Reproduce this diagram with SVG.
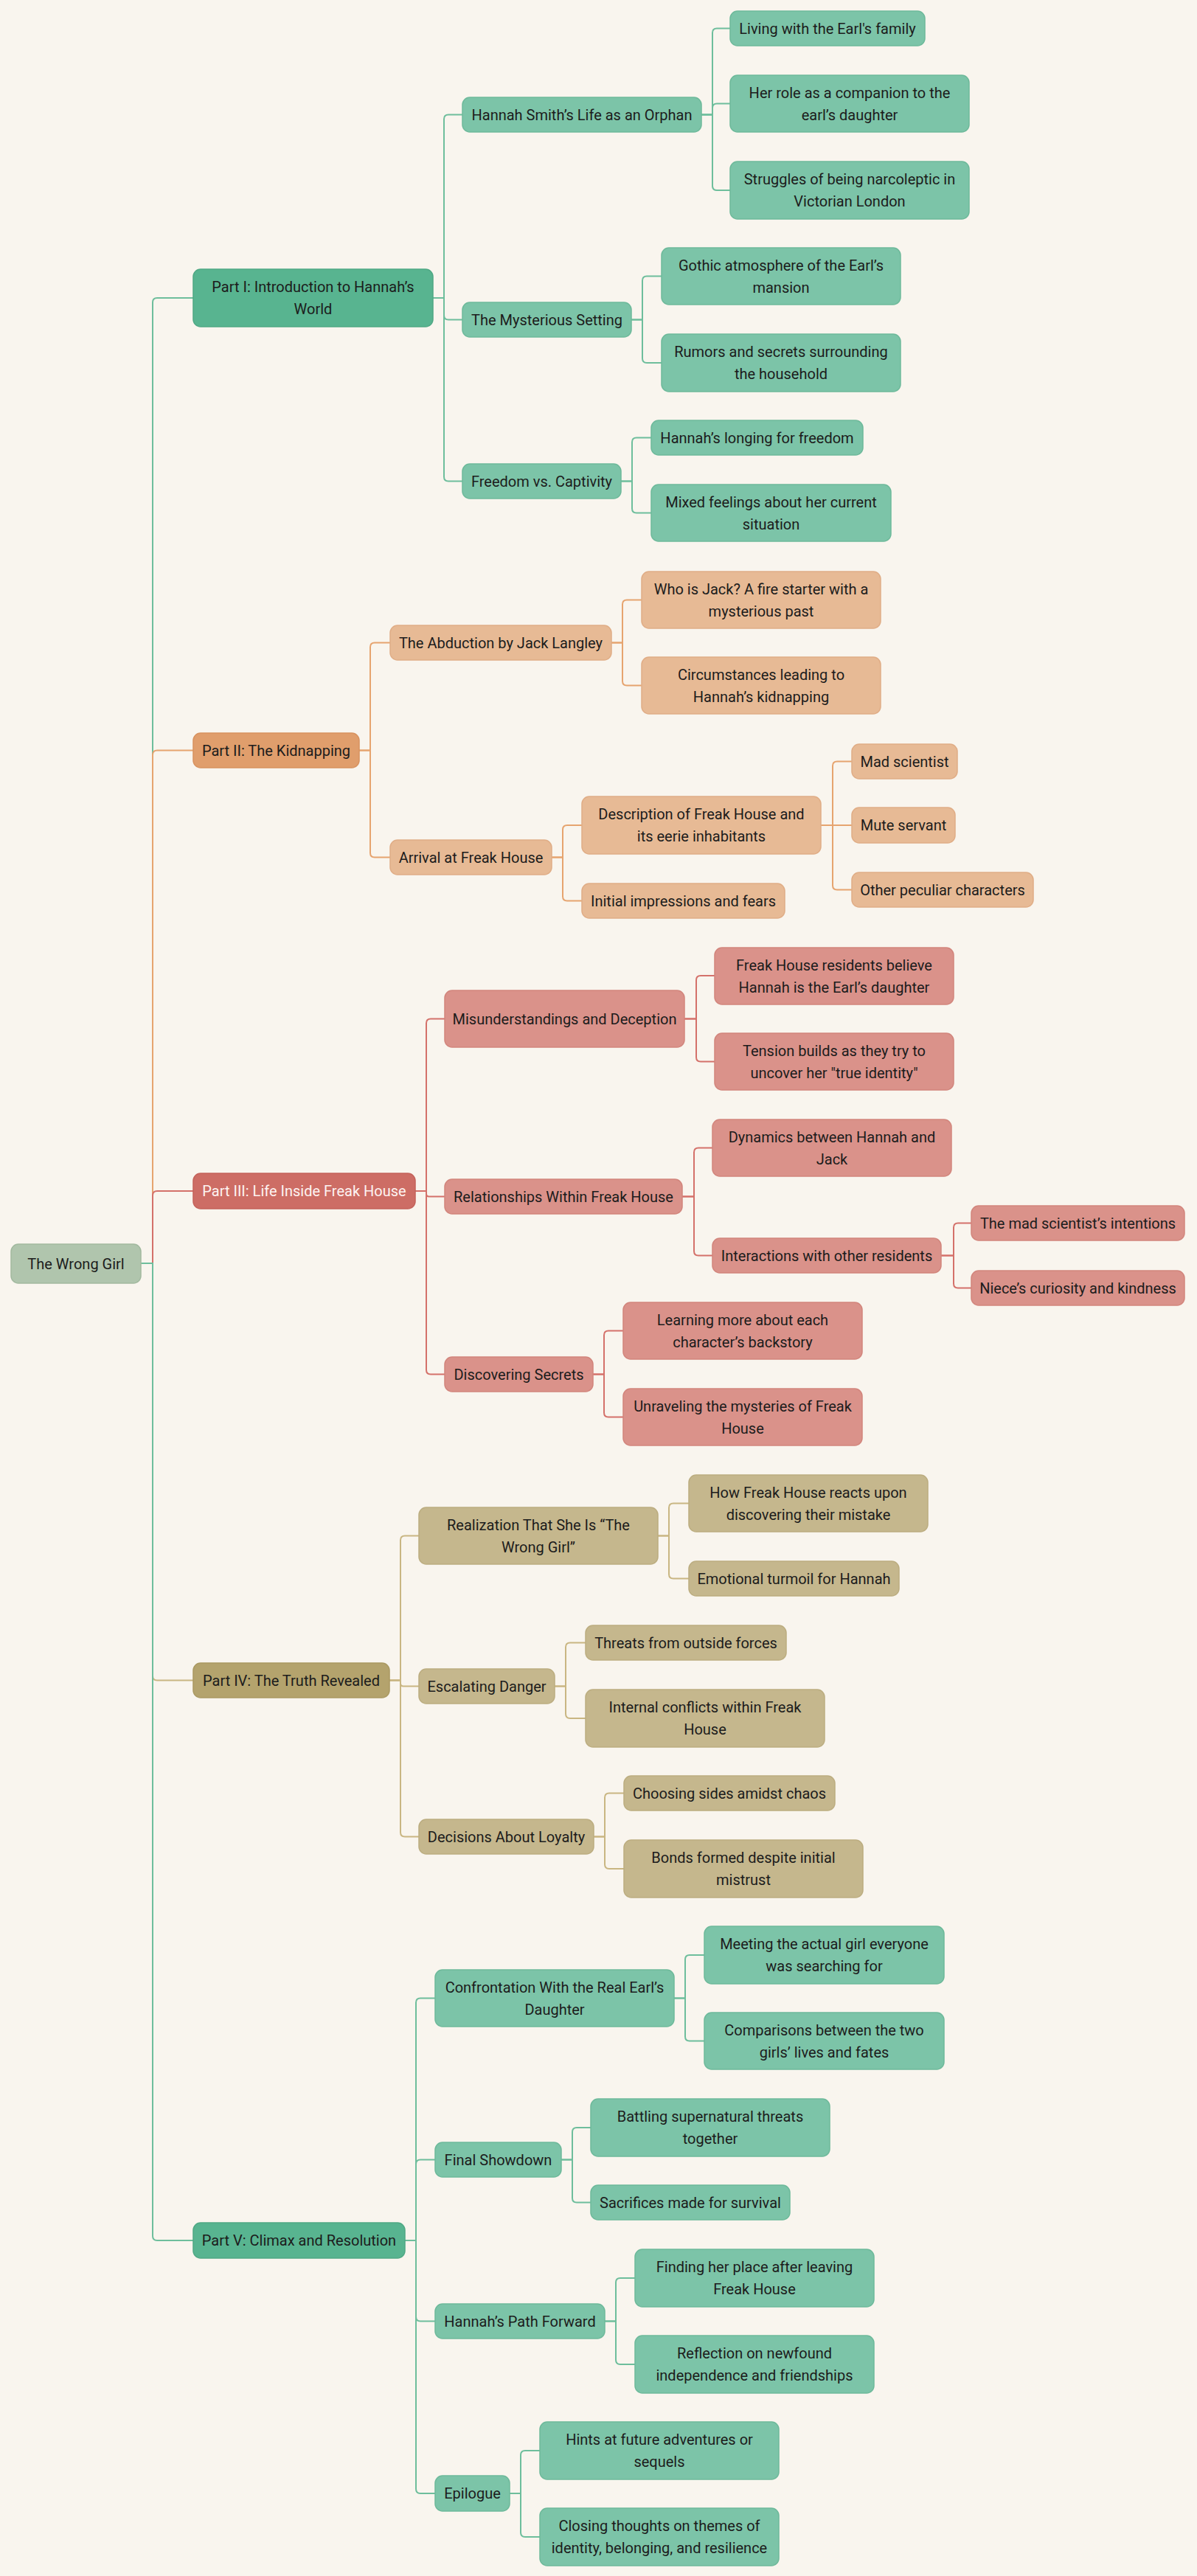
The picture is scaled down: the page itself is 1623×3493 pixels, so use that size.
<svg xmlns="http://www.w3.org/2000/svg" width="1623" height="3493" viewBox="0 0 1623 3493">
<style>
.bg{fill:#f9f5ee}
text{font-family:Roboto,"Liberation Sans",Arial,sans-serif;font-size:20px;fill:#1c1c1c;text-anchor:middle;dominant-baseline:central}
.root rect{fill:#b0c5ad;stroke:#a2b99f;stroke-width:1.5}
.g1 rect{fill:#58b490;stroke:#4fa884;stroke-width:1.5}
.g2 rect{fill:#7cc4a8;stroke:#6db99a;stroke-width:1.5}
.o1 rect{fill:#e09e6c;stroke:#d8925f;stroke-width:1.5}
.o2 rect{fill:#e7ba95;stroke:#e0ad86;stroke-width:1.5}
.r1 rect{fill:#cd6d65;stroke:#c4625a;stroke-width:1.5}
.r1 text{fill:#fdf3f1}
.r2 rect{fill:#da928a;stroke:#d2857c;stroke-width:1.5}
.y1 rect{fill:#b4a36d;stroke:#aa9962;stroke-width:1.5}
.y2 rect{fill:#c5b78d;stroke:#bcad80;stroke-width:1.5}
#connectors path{fill:none;stroke-width:2}
.cg{stroke:#6ebe9c}
.co{stroke:#e6a46f}
.cr{stroke:#d4716a}
.cy{stroke:#c9b682}
</style>
<rect class="bg" x="0" y="0" width="1623" height="3493"/>
<g id="connectors">
<path class="cg" d="M191 1713 H207 V410 Q207 404 213 404 H262"/>
<path class="co" d="M191 1713 H207 V1023.5 Q207 1017.5 213 1017.5 H262"/>
<path class="cr" d="M191 1713 H207 V1621 Q207 1615 213 1615 H262"/>
<path class="cy" d="M191 1713 H207 V2272.5 Q207 2278.5 213 2278.5 H262"/>
<path class="cg" d="M191 1713 H207 V3032 Q207 3038 213 3038 H262"/>

<path class="cg" d="M587 404 H602 V161.5 Q602 155.5 608 155.5 H627"/>
<path class="cg" d="M587 404 H602 V427.5 Q602 433.5 608 433.5 H627"/>
<path class="cg" d="M587 404 H602 V646.5 Q602 652.5 608 652.5 H627"/>
<path class="cg" d="M951 155.5 H966 V44.5 Q966 38.5 972 38.5 H990"/>
<path class="cg" d="M951 155.5 H966 V146.5 Q966 140.5 972 140.5 H990"/>
<path class="cg" d="M951 155.5 H966 V252 Q966 258 972 258 H990"/>
<path class="cg" d="M856 433.5 H871 V380.5 Q871 374.5 877 374.5 H897"/>
<path class="cg" d="M856 433.5 H871 V486 Q871 492 877 492 H897"/>
<path class="cg" d="M842 652.5 H857 V599.5 Q857 593.5 863 593.5 H883"/>
<path class="cg" d="M842 652.5 H857 V689.5 Q857 695.5 863 695.5 H883"/>

<path class="co" d="M487 1017.5 H502 V877.5 Q502 871.5 508 871.5 H529"/>
<path class="co" d="M487 1017.5 H502 V1156.5 Q502 1162.5 508 1162.5 H529"/>
<path class="co" d="M829 871.5 H844 V819.5 Q844 813.5 850 813.5 H870"/>
<path class="co" d="M829 871.5 H844 V923.5 Q844 929.5 850 929.5 H870"/>
<path class="co" d="M748 1162.5 H763 V1125 Q763 1119 769 1119 H789"/>
<path class="co" d="M748 1162.5 H763 V1215.5 Q763 1221.5 769 1221.5 H789"/>
<path class="co" d="M1113 1119 H1129 V1038.5 Q1129 1032.5 1135 1032.5 H1155"/>
<path class="co" d="M1113 1119 H1155"/>
<path class="co" d="M1113 1119 H1129 V1200.5 Q1129 1206.5 1135 1206.5 H1155"/>

<path class="cr" d="M563 1615 H578 V1387.5 Q578 1381.5 584 1381.5 H603"/>
<path class="cr" d="M563 1615 H578 V1618.75 Q578 1622.5 581.75 1622.5 H603"/>
<path class="cr" d="M563 1615 H578 V1857.5 Q578 1863.5 584 1863.5 H603"/>
<path class="cr" d="M928 1381.5 H944 V1329 Q944 1323 950 1323 H969"/>
<path class="cr" d="M928 1381.5 H944 V1433.5 Q944 1439.5 950 1439.5 H969"/>
<path class="cr" d="M925 1622.5 H941 V1562.5 Q941 1556.5 947 1556.5 H966"/>
<path class="cr" d="M925 1622.5 H941 V1696.5 Q941 1702.5 947 1702.5 H966"/>
<path class="cr" d="M1276 1702.5 H1293 V1664.5 Q1293 1658.5 1299 1658.5 H1317"/>
<path class="cr" d="M1276 1702.5 H1293 V1740.5 Q1293 1746.5 1299 1746.5 H1317"/>
<path class="cr" d="M804 1863.5 H819 V1810.5 Q819 1804.5 825 1804.5 H845"/>
<path class="cr" d="M804 1863.5 H819 V1915.5 Q819 1921.5 825 1921.5 H845"/>

<path class="cy" d="M528 2278.5 H543 V2088.5 Q543 2082.5 549 2082.5 H568"/>
<path class="cy" d="M528 2278.5 H543 V2282.5 Q543 2286.5 547 2286.5 H568"/>
<path class="cy" d="M528 2278.5 H543 V2484.5 Q543 2490.5 549 2490.5 H568"/>
<path class="cy" d="M892 2082.5 H907 V2044.5 Q907 2038.5 913 2038.5 H934"/>
<path class="cy" d="M892 2082.5 H907 V2134.5 Q907 2140.5 913 2140.5 H934"/>
<path class="cy" d="M752 2286.5 H767 V2233.5 Q767 2227.5 773 2227.5 H794"/>
<path class="cy" d="M752 2286.5 H767 V2324 Q767 2330 773 2330 H794"/>
<path class="cy" d="M805 2490.5 H820 V2437.5 Q820 2431.5 826 2431.5 H846"/>
<path class="cy" d="M805 2490.5 H820 V2528 Q820 2534 826 2534 H846"/>

<path class="cg" d="M549 3038 H564 V2715.5 Q564 2709.5 570 2709.5 H590"/>
<path class="cg" d="M549 3038 H564 V2934.5 Q564 2928.5 570 2928.5 H590"/>
<path class="cg" d="M549 3038 H564 V3141.5 Q564 3147.5 570 3147.5 H590"/>
<path class="cg" d="M549 3038 H564 V3375 Q564 3381 570 3381 H590"/>
<path class="cg" d="M914 2709.5 H929 V2657 Q929 2651 935 2651 H955"/>
<path class="cg" d="M914 2709.5 H929 V2761.5 Q929 2767.5 935 2767.5 H955"/>
<path class="cg" d="M761 2928.5 H776 V2891 Q776 2885 782 2885 H801"/>
<path class="cg" d="M761 2928.5 H776 V2980.5 Q776 2986.5 782 2986.5 H801"/>
<path class="cg" d="M820 3147.5 H835 V3095 Q835 3089 841 3089 H861"/>
<path class="cg" d="M820 3147.5 H835 V3200 Q835 3206 841 3206 H861"/>
<path class="cg" d="M691 3381 H706 V3329 Q706 3323 712 3323 H732"/>
<path class="cg" d="M691 3381 H706 V3434 Q706 3440 712 3440 H732"/>
</g>

<g id="n-root" class="root"><rect x="15" y="1687" width="176" height="53" rx="10"/><text x="103" y="1713.5">The Wrong Girl</text></g>

<g id="n-p1" class="g1"><rect x="262" y="365" width="325" height="78" rx="10"/><text x="424.5" y="389">Part I: Introduction to Hannah’s</text><text x="424.5" y="419">World</text></g>
<g id="n-p1a" class="g2"><rect x="627" y="132" width="324" height="47" rx="10"/><text x="789" y="155.5">Hannah Smith’s Life as an Orphan</text></g>
<g id="n-p1a1" class="g2"><rect x="990" y="15" width="264" height="47" rx="10"/><text x="1122" y="38.5">Living with the Earl's family</text></g>
<g id="n-p1a2" class="g2"><rect x="990" y="102" width="324" height="77" rx="10"/><text x="1152" y="125.5">Her role as a companion to the</text><text x="1152" y="155.5">earl’s daughter</text></g>
<g id="n-p1a3" class="g2"><rect x="990" y="219" width="324" height="78" rx="10"/><text x="1152" y="243">Struggles of being narcoleptic in</text><text x="1152" y="273">Victorian London</text></g>
<g id="n-p1b" class="g2"><rect x="627" y="410" width="229" height="47" rx="10"/><text x="741.5" y="433.5">The Mysterious Setting</text></g>
<g id="n-p1b1" class="g2"><rect x="897" y="336" width="324" height="77" rx="10"/><text x="1059" y="359.5">Gothic atmosphere of the Earl’s</text><text x="1059" y="389.5">mansion</text></g>
<g id="n-p1b2" class="g2"><rect x="897" y="453" width="324" height="78" rx="10"/><text x="1059" y="477">Rumors and secrets surrounding</text><text x="1059" y="507">the household</text></g>
<g id="n-p1c" class="g2"><rect x="627" y="629" width="215" height="47" rx="10"/><text x="734.5" y="652.5">Freedom vs. Captivity</text></g>
<g id="n-p1c1" class="g2"><rect x="883" y="570" width="287" height="47" rx="10"/><text x="1026.5" y="593.5">Hannah’s longing for freedom</text></g>
<g id="n-p1c2" class="g2"><rect x="883" y="657" width="325" height="77" rx="10"/><text x="1045.5" y="680.5">Mixed feelings about her current</text><text x="1045.5" y="710.5">situation</text></g>

<g id="n-p2" class="o1"><rect x="262" y="994" width="225" height="47" rx="10"/><text x="374.5" y="1017.5">Part II: The Kidnapping</text></g>
<g id="n-p2a" class="o2"><rect x="529" y="848" width="300" height="47" rx="10"/><text x="679" y="871.5">The Abduction by Jack Langley</text></g>
<g id="n-p2a1" class="o2"><rect x="870" y="775" width="324" height="77" rx="10"/><text x="1032" y="798.5">Who is Jack? A fire starter with a</text><text x="1032" y="828.5">mysterious past</text></g>
<g id="n-p2a2" class="o2"><rect x="870" y="891" width="324" height="77" rx="10"/><text x="1032" y="914.5">Circumstances leading to</text><text x="1032" y="944.5">Hannah’s kidnapping</text></g>
<g id="n-p2b" class="o2"><rect x="529" y="1139" width="219" height="47" rx="10"/><text x="638.5" y="1162.5">Arrival at Freak House</text></g>
<g id="n-p2b1" class="o2"><rect x="789" y="1080" width="324" height="78" rx="10"/><text x="951" y="1104">Description of Freak House and</text><text x="951" y="1134">its eerie inhabitants</text></g>
<g id="n-p2b1a" class="o2"><rect x="1155" y="1009" width="143" height="47" rx="10"/><text x="1226.5" y="1032.5">Mad scientist</text></g>
<g id="n-p2b1b" class="o2"><rect x="1155" y="1095" width="140" height="48" rx="10"/><text x="1225" y="1119">Mute servant</text></g>
<g id="n-p2b1c" class="o2"><rect x="1155" y="1183" width="246" height="47" rx="10"/><text x="1278" y="1206.5">Other peculiar characters</text></g>
<g id="n-p2b2" class="o2"><rect x="789" y="1198" width="275" height="47" rx="10"/><text x="926.5" y="1221.5">Initial impressions and fears</text></g>

<g id="n-p3" class="r1"><rect x="262" y="1591" width="301" height="48" rx="10"/><text x="412.5" y="1615">Part III: Life Inside Freak House</text></g>
<g id="n-p3a" class="r2"><rect x="603" y="1343" width="325" height="77" rx="10"/><text x="765.5" y="1381.5">Misunderstandings and Deception</text></g>
<g id="n-p3a1" class="r2"><rect x="969" y="1285" width="324" height="77" rx="10"/><text x="1131" y="1308.5">Freak House residents believe</text><text x="1131" y="1338.5">Hannah is the Earl’s daughter</text></g>
<g id="n-p3a2" class="r2"><rect x="969" y="1401" width="324" height="77" rx="10"/><text x="1131" y="1424.5">Tension builds as they try to</text><text x="1131" y="1454.5">uncover her "true identity"</text></g>
<g id="n-p3b" class="r2"><rect x="603" y="1599" width="322" height="47" rx="10"/><text x="764" y="1622.5">Relationships Within Freak House</text></g>
<g id="n-p3b1" class="r2"><rect x="966" y="1518" width="324" height="77" rx="10"/><text x="1128" y="1541.5">Dynamics between Hannah and</text><text x="1128" y="1571.5">Jack</text></g>
<g id="n-p3b2" class="r2"><rect x="966" y="1679" width="310" height="47" rx="10"/><text x="1121" y="1702.5">Interactions with other residents</text></g>
<g id="n-p3b2a" class="r2"><rect x="1317" y="1635" width="289" height="47" rx="10"/><text x="1461.5" y="1658.5">The mad scientist’s intentions</text></g>
<g id="n-p3b2b" class="r2"><rect x="1317" y="1723" width="289" height="47" rx="10"/><text x="1461.5" y="1746.5">Niece’s curiosity and kindness</text></g>
<g id="n-p3c" class="r2"><rect x="603" y="1840" width="201" height="47" rx="10"/><text x="703.5" y="1863.5">Discovering Secrets</text></g>
<g id="n-p3c1" class="r2"><rect x="845" y="1766" width="324" height="77" rx="10"/><text x="1007" y="1789.5">Learning more about each</text><text x="1007" y="1819.5">character’s backstory</text></g>
<g id="n-p3c2" class="r2"><rect x="845" y="1883" width="324" height="77" rx="10"/><text x="1007" y="1906.5">Unraveling the mysteries of Freak</text><text x="1007" y="1936.5">House</text></g>

<g id="n-p4" class="y1"><rect x="262" y="2255" width="266" height="47" rx="10"/><text x="395" y="2278.5">Part IV: The Truth Revealed</text></g>
<g id="n-p4a" class="y2"><rect x="568" y="2044" width="324" height="77" rx="10"/><text x="730" y="2067.5">Realization That She Is “The</text><text x="730" y="2097.5">Wrong Girl”</text></g>
<g id="n-p4a1" class="y2"><rect x="934" y="2000" width="324" height="77" rx="10"/><text x="1096" y="2023.5">How Freak House reacts upon</text><text x="1096" y="2053.5">discovering their mistake</text></g>
<g id="n-p4a2" class="y2"><rect x="934" y="2117" width="285" height="47" rx="10"/><text x="1076.5" y="2140.5">Emotional turmoil for Hannah</text></g>
<g id="n-p4b" class="y2"><rect x="568" y="2263" width="184" height="47" rx="10"/><text x="660" y="2286.5">Escalating Danger</text></g>
<g id="n-p4b1" class="y2"><rect x="794" y="2204" width="272" height="47" rx="10"/><text x="930" y="2227.5">Threats from outside forces</text></g>
<g id="n-p4b2" class="y2"><rect x="794" y="2291" width="324" height="78" rx="10"/><text x="956" y="2315">Internal conflicts within Freak</text><text x="956" y="2345">House</text></g>
<g id="n-p4c" class="y2"><rect x="568" y="2467" width="237" height="47" rx="10"/><text x="686.5" y="2490.5">Decisions About Loyalty</text></g>
<g id="n-p4c1" class="y2"><rect x="846" y="2408" width="286" height="47" rx="10"/><text x="989" y="2431.5">Choosing sides amidst chaos</text></g>
<g id="n-p4c2" class="y2"><rect x="846" y="2495" width="324" height="78" rx="10"/><text x="1008" y="2519">Bonds formed despite initial</text><text x="1008" y="2549">mistrust</text></g>

<g id="n-p5" class="g1"><rect x="262" y="3014" width="287" height="48" rx="10"/><text x="405.5" y="3038">Part V: Climax and Resolution</text></g>
<g id="n-p5a" class="g2"><rect x="590" y="2671" width="324" height="77" rx="10"/><text x="752" y="2694.5">Confrontation With the Real Earl’s</text><text x="752" y="2724.5">Daughter</text></g>
<g id="n-p5a1" class="g2"><rect x="955" y="2612" width="325" height="78" rx="10"/><text x="1117.5" y="2636">Meeting the actual girl everyone</text><text x="1117.5" y="2666">was searching for</text></g>
<g id="n-p5a2" class="g2"><rect x="955" y="2729" width="325" height="77" rx="10"/><text x="1117.5" y="2752.5">Comparisons between the two</text><text x="1117.5" y="2782.5">girls’ lives and fates</text></g>
<g id="n-p5b" class="g2"><rect x="590" y="2905" width="171" height="47" rx="10"/><text x="675.5" y="2928.5">Final Showdown</text></g>
<g id="n-p5b1" class="g2"><rect x="801" y="2846" width="324" height="78" rx="10"/><text x="963" y="2870">Battling supernatural threats</text><text x="963" y="2900">together</text></g>
<g id="n-p5b2" class="g2"><rect x="801" y="2963" width="270" height="47" rx="10"/><text x="936" y="2986.5">Sacrifices made for survival</text></g>
<g id="n-p5c" class="g2"><rect x="590" y="3124" width="230" height="47" rx="10"/><text x="705" y="3147.5">Hannah’s Path Forward</text></g>
<g id="n-p5c1" class="g2"><rect x="861" y="3050" width="324" height="78" rx="10"/><text x="1023" y="3074">Finding her place after leaving</text><text x="1023" y="3104">Freak House</text></g>
<g id="n-p5c2" class="g2"><rect x="861" y="3167" width="324" height="78" rx="10"/><text x="1023" y="3191">Reflection on newfound</text><text x="1023" y="3221">independence and friendships</text></g>
<g id="n-p5d" class="g2"><rect x="590" y="3357" width="101" height="48" rx="10"/><text x="640.5" y="3381">Epilogue</text></g>
<g id="n-p5d1" class="g2"><rect x="732" y="3284" width="324" height="78" rx="10"/><text x="894" y="3308">Hints at future adventures or</text><text x="894" y="3338">sequels</text></g>
<g id="n-p5d2" class="g2"><rect x="732" y="3401" width="324" height="78" rx="10"/><text x="894" y="3425">Closing thoughts on themes of</text><text x="894" y="3455">identity, belonging, and resilience</text></g>
</svg>
